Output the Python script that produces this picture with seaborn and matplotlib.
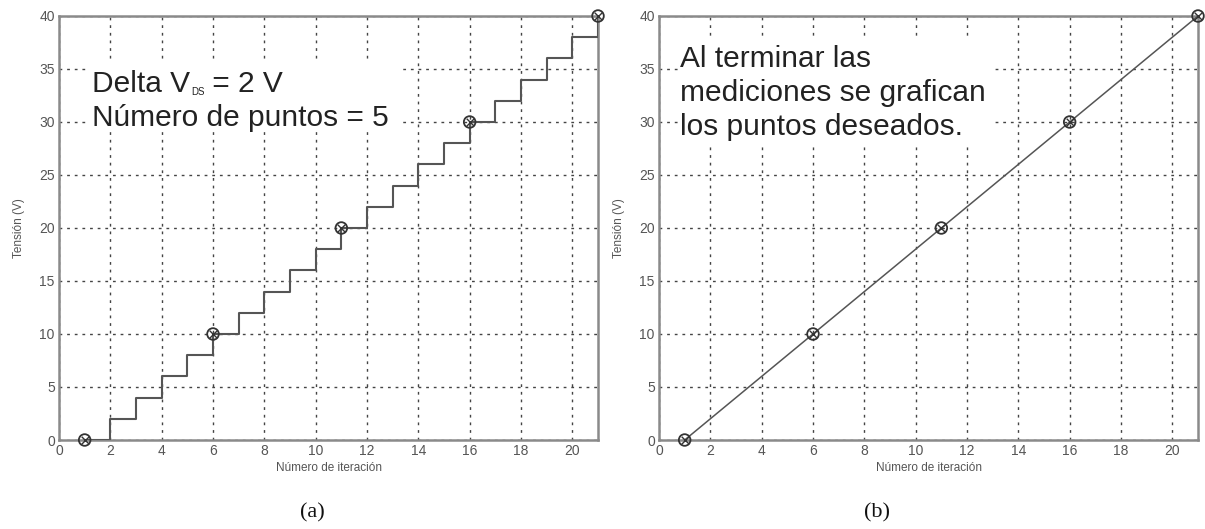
import matplotlib
matplotlib.use("Agg")
import matplotlib.pyplot as plt
import seaborn as sns
import pandas as pd
from matplotlib.patches import Rectangle

# Data
iteraciones = [1, 2, 3, 4, 5, 6, 7, 8, 9, 10, 11, 12, 13, 14, 15, 16, 17, 18, 19, 20, 21]
tension = [0, 2, 4, 6, 8, 10, 12, 14, 16, 18, 20, 22, 24, 26, 28, 30, 32, 34, 36, 38, 40]
puntos_x = [1, 6, 11, 16, 21]
puntos_y = [0, 10, 20, 30, 40]
x_ticks = [0, 2, 4, 6, 8, 10, 12, 14, 16, 18, 20]
y_ticks = [0, 5, 10, 15, 20, 25, 30, 35, 40]
texto_a1 = ["Delta V", "DS", " = 2 V"]
texto_a2 = "Número de puntos = 5"
texto_b = ["Al terminar las", "mediciones se grafican", "los puntos deseados."]
captions = ["(a)", "(b)"]

sns.set_style("white")
plt.rcParams['font.family'] = ['Liberation Sans', 'DejaVu Sans']

df_steps = pd.DataFrame({"x": iteraciones, "y": tension})
df_pts = pd.DataFrame({"x": puntos_x, "y": puntos_y})

W, H = 1205, 529
AW, AH = 539, 424
fig = plt.figure(figsize=(W / 100, H / 100), dpi=100)
ax_a = fig.add_axes([59 / W, 1 - 440 / H, AW / W, AH / H])
ax_b = fig.add_axes([659 / W, 1 - 440 / H, AW / W, AH / H])

line_col = "#555555"
spine_col = "#8a8a8a"
tick_col = "#555555"
txt_col = "#222222"
FS = 21.5


def style(ax):
    ax.set_xlim(0, 21)
    ax.set_ylim(0, 40)
    ax.set_xticks(x_ticks)
    ax.set_yticks(y_ticks)
    ax.grid(True, color="#444444", linestyle=(0, (2, 3.5)), linewidth=1.0)
    ax.set_axisbelow(True)
    for s in ax.spines.values():
        s.set_color(spine_col)
        s.set_linewidth(1.8)
    ax.tick_params(axis="both", labelsize=10, colors=tick_col, length=3,
                   direction="in", pad=3, width=0.8)
    ax.set_xlabel("Número de iteración", fontsize=8.5, color=tick_col, labelpad=3)
    ax.set_ylabel("Tensión (V)", fontsize=8.5, color=tick_col, labelpad=10)


def markers(ax):
    sns.scatterplot(data=df_pts, x="x", y="y", ax=ax, marker="o", s=70,
                    facecolor="none", edgecolor="#333333", linewidth=1.3,
                    zorder=5, clip_on=False, legend=False)
    sns.scatterplot(data=df_pts, x="x", y="y", ax=ax, marker="x", s=30,
                    color="#333333", linewidth=1.0, zorder=6, clip_on=False,
                    legend=False)


def white_box(ax, x0, x1, y0, y1):
    # pixel offsets from axes top-left
    ax.add_patch(Rectangle((x0 / AW, 1 - y1 / AH), (x1 - x0) / AW, (y1 - y0) / AH,
                           transform=ax.transAxes, facecolor="white",
                           edgecolor="none", zorder=1))


# Panel (a)
sns.lineplot(data=df_steps, x="x", y="y", ax=ax_a, drawstyle="steps-post",
             color=line_col, linewidth=1.5, zorder=4)
markers(ax_a)
style(ax_a)
white_box(ax_a, 31, 344, 46, 116)
t1 = ax_a.text(33 / AW, 1 - 76 / AH, texto_a1[0], transform=ax_a.transAxes,
               fontsize=FS, color=txt_col, va="baseline", ha="left", zorder=3)
fig.canvas.draw()
r = fig.canvas.get_renderer()
ext = t1.get_window_extent(renderer=r)
x_sub = ax_a.transAxes.inverted().transform((ext.x1 + 1, ext.y0))[0]
t2 = ax_a.text(x_sub, 1 - 79 / AH, texto_a1[1], transform=ax_a.transAxes,
               fontsize=7, color=txt_col, va="baseline", ha="left", zorder=3)
fig.canvas.draw()
ext2 = t2.get_window_extent(renderer=r)
x_rest = ax_a.transAxes.inverted().transform((ext2.x1, ext2.y0))[0]
ax_a.text(x_rest, 1 - 76 / AH, texto_a1[2], transform=ax_a.transAxes,
          fontsize=FS, color=txt_col, va="baseline", ha="left", zorder=3)
ax_a.text(33 / AW, 1 - 110 / AH, texto_a2, transform=ax_a.transAxes,
          fontsize=FS, color=txt_col, va="baseline", ha="left", zorder=3)

# Panel (b)
sns.lineplot(data=df_pts, x="x", y="y", ax=ax_b, color=line_col,
             linewidth=1.1, zorder=4)
markers(ax_b)
style(ax_b)
white_box(ax_b, 21, 336, 22, 131)
for i, t in enumerate(texto_b):
    ax_b.text(21 / AW, 1 - (51 + 34 * i) / AH, t, transform=ax_b.transAxes,
              fontsize=FS, color=txt_col, va="baseline", ha="left", zorder=3)

# Captions
fig.text(312 / W, 1 - 513 / H, captions[0], fontsize=16, ha="center",
         va="center", family=["Liberation Serif", "DejaVu Serif"], color="#111111")
fig.text(877 / W, 1 - 513 / H, captions[1], fontsize=16, ha="center",
         va="center", family=["Liberation Serif", "DejaVu Serif"], color="#111111")

fig.savefig("out.png", dpi=100, facecolor="white")
